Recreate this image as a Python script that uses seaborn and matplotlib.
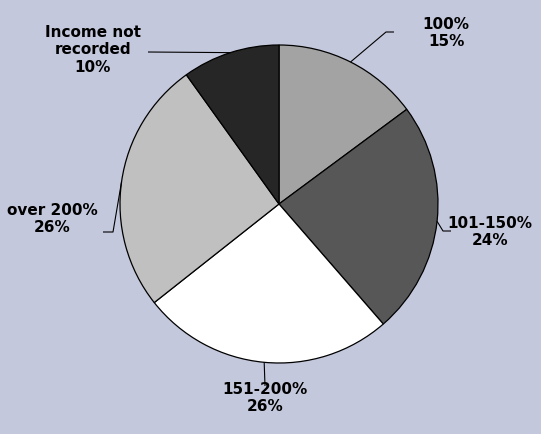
import numpy as np
import matplotlib
matplotlib.use("Agg")
import matplotlib.pyplot as plt
import seaborn as sns

categories = ["100%", "101-150%", "151-200%", "over 200%", "Income not\nrecorded"]
shares = [15, 24, 26, 26, 10]
slice_colors = ["#a3a3a3", "#575757", "#ffffff", "#c0c0c0", "#262626"]

sns.set_theme(style="white")
plt.rcParams["font.family"] = ["DejaVu Sans"]

BG = "#c4c8dc"
W, H = 541, 434
fig = plt.figure(figsize=(W / 100, H / 100), dpi=100, facecolor=BG)
ax = fig.add_axes([0, 0, 1, 1])
ax.set_facecolor(BG)

cx, cy, r = 279, H - 204, 159
wedges, _ = ax.pie(shares, colors=slice_colors, startangle=90, counterclock=False,
                   center=(cx, cy), radius=r, frame=True,
                   wedgeprops=dict(edgecolor="black", linewidth=0.9))
ax.set_xlim(0, W)
ax.set_ylim(0, H)
ax.set_aspect("equal")
ax.axis("off")

# label anchor (text centre), elbow point and line end, in pixel space (y down)
label_layout = [
    ((446, 33), (386, 32), (394, 32)),
    ((490, 232), (443, 231), (451, 231)),
    ((265, 398), (265, 386), (265, 386)),
    ((52, 219), (113, 232), (103, 232)),
    ((93, 50), (148, 52), (148, 52)),
]

for w, cat, val, (tpos, elbow, end) in zip(wedges, categories, shares, label_layout):
    mid = np.deg2rad((w.theta1 + w.theta2) / 2)
    ex, ey = cx + r * np.cos(mid), cy + r * np.sin(mid)
    xs = [ex, elbow[0], end[0]]
    ys = [ey, H - elbow[1], H - end[1]]
    ax.plot(xs, ys, color="black", lw=0.8, solid_capstyle="butt")
    ax.text(tpos[0], H - tpos[1], f"{cat}\n{val}%", ha="center", va="center",
            fontsize=11, fontweight="bold", color="black", linespacing=1.2)

fig.savefig("out.png", dpi=100, facecolor=BG)
